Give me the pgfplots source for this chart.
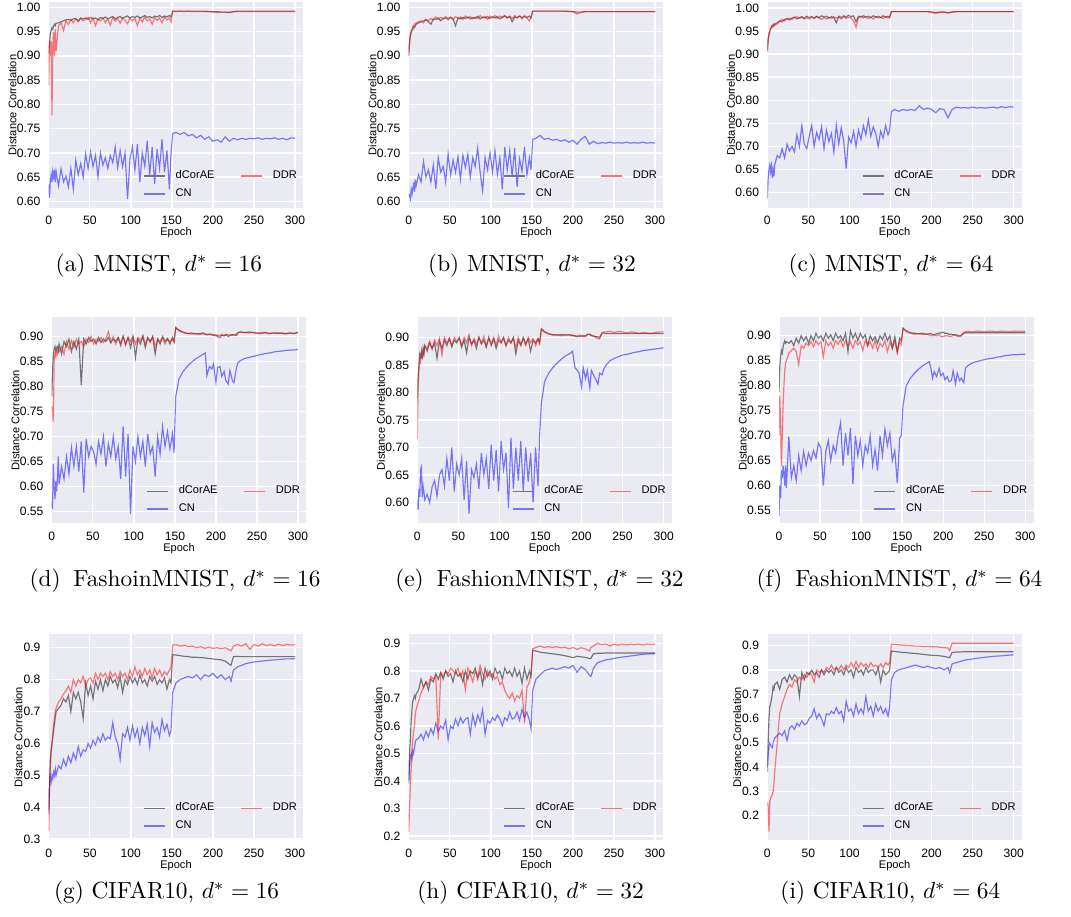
\documentclass[border=0pt]{standalone}
\usepackage{fontspec}
\usepackage{pgfplots}
\usepackage{pgfplotstable}
\pgfplotsset{compat=1.18}
\newfontfamily\plotfont{Liberation Sans}
\definecolor{sbbg}{RGB}{234,234,242}
% legend colours: the plot colours at half opacity over the background
\definecolor{lgk}{RGB}{117,117,121}
\definecolor{lgr}{RGB}{244,117,121}
\definecolor{lgb}{RGB}{117,117,249}

% one table per panel: epoch, dCorAE, DDR, CN
\pgfplotstableread{
ep dc ddr cn
0 0.905 0.840 0.635
1 0.925 0.930 0.608
2 0.945 0.900 0.645
3 0.952 0.930 0.655
4 0.958 0.778 0.640
5 0.955 0.920 0.662
6 0.962 0.950 0.650
7 0.965 0.900 0.665
8 0.962 0.955 0.640
9 0.967 0.910 0.662
12 0.968 0.962 0.632
15 0.970 0.968 0.667
18 0.972 0.952 0.640
21 0.974 0.972 0.652
24 0.975 0.965 0.630
27 0.973 0.975 0.668
30 0.976 0.968 0.625
33 0.977 0.976 0.685
36 0.972 0.970 0.655
39 0.978 0.977 0.678
42 0.976 0.972 0.650
45 0.978 0.975 0.698
48 0.975 0.979 0.668
51 0.979 0.968 0.702
54 0.976 0.978 0.672
57 0.978 0.962 0.695
60 0.974 0.976 0.650
63 0.979 0.972 0.700
66 0.977 0.978 0.675
69 0.980 0.968 0.690
72 0.976 0.976 0.668
75 0.979 0.963 0.695
78 0.981 0.979 0.680
81 0.976 0.971 0.712
84 0.979 0.977 0.670
87 0.981 0.967 0.705
90 0.977 0.978 0.672
93 0.980 0.973 0.700
96 0.982 0.966 0.605
99 0.978 0.978 0.688
102 0.981 0.972 0.712
105 0.979 0.977 0.665
108 0.982 0.962 0.718
111 0.978 0.978 0.640
114 0.980 0.970 0.700
117 0.983 0.980 0.672
120 0.979 0.972 0.725
123 0.981 0.976 0.655
126 0.978 0.965 0.712
129 0.982 0.979 0.636
132 0.980 0.973 0.708
135 0.983 0.978 0.668
138 0.979 0.968 0.728
141 0.982 0.980 0.660
144 0.980 0.974 0.705
147 0.983 0.978 0.625
149 0.980 0.970 0.700
151 0.992 0.992 0.740
155 0.992 0.991 0.742
160 0.992 0.992 0.738
165 0.992 0.991 0.742
170 0.992 0.992 0.735
175 0.992 0.991 0.738
180 0.992 0.991 0.731
185 0.992 0.991 0.736
190 0.992 0.991 0.728
195 0.991 0.991 0.733
200 0.991 0.990 0.724
205 0.991 0.989 0.727
210 0.990 0.990 0.722
215 0.990 0.990 0.733
220 0.989 0.990 0.724
225 0.991 0.991 0.730
230 0.992 0.991 0.727
235 0.992 0.991 0.730
240 0.992 0.991 0.728
245 0.992 0.991 0.730
250 0.992 0.991 0.729
255 0.992 0.991 0.731
260 0.992 0.991 0.728
265 0.992 0.991 0.730
270 0.992 0.991 0.729
275 0.992 0.991 0.731
280 0.992 0.991 0.728
285 0.992 0.991 0.730
290 0.992 0.991 0.727
295 0.992 0.991 0.731
300 0.992 0.991 0.730
}\tA

\pgfplotstableread{
ep dc ddr cn
0 0.900 0.905 0.615
1 0.925 0.930 0.612
2 0.940 0.945 0.605
3 0.948 0.952 0.625
4 0.952 0.955 0.615
5 0.955 0.960 0.628
6 0.960 0.962 0.635
7 0.958 0.965 0.620
8 0.962 0.963 0.645
9 0.965 0.968 0.632
12 0.968 0.970 0.655
15 0.970 0.972 0.640
18 0.972 0.968 0.682
21 0.974 0.975 0.650
24 0.970 0.972 0.665
27 0.965 0.977 0.640
30 0.976 0.974 0.675
33 0.975 0.980 0.626
36 0.978 0.975 0.690
39 0.972 0.979 0.660
42 0.977 0.976 0.672
45 0.978 0.981 0.640
48 0.975 0.977 0.698
51 0.979 0.980 0.655
54 0.976 0.975 0.685
57 0.962 0.981 0.660
60 0.978 0.977 0.692
63 0.976 0.980 0.645
66 0.979 0.975 0.695
69 0.977 0.982 0.670
72 0.980 0.978 0.697
75 0.976 0.981 0.650
78 0.979 0.976 0.690
81 0.977 0.980 0.672
84 0.981 0.977 0.710
87 0.976 0.983 0.660
90 0.980 0.978 0.622
93 0.978 0.981 0.690
96 0.981 0.975 0.665
99 0.977 0.982 0.700
102 0.980 0.979 0.660
105 0.978 0.983 0.705
108 0.981 0.977 0.655
111 0.976 0.982 0.690
114 0.980 0.978 0.625
117 0.982 0.983 0.712
120 0.978 0.979 0.665
123 0.981 0.982 0.705
126 0.970 0.977 0.650
129 0.980 0.983 0.710
132 0.978 0.979 0.630
135 0.982 0.982 0.688
138 0.979 0.976 0.662
141 0.981 0.983 0.712
144 0.979 0.978 0.655
147 0.982 0.972 0.690
149 0.978 0.980 0.665
151 0.992 0.992 0.728
155 0.992 0.992 0.730
160 0.992 0.992 0.736
165 0.992 0.992 0.728
170 0.992 0.992 0.730
175 0.992 0.992 0.726
180 0.992 0.992 0.728
185 0.992 0.992 0.724
190 0.992 0.992 0.727
195 0.991 0.992 0.722
200 0.991 0.991 0.726
205 0.990 0.986 0.718
210 0.990 0.990 0.728
215 0.991 0.991 0.734
220 0.991 0.991 0.718
225 0.991 0.991 0.724
230 0.991 0.991 0.719
235 0.991 0.991 0.721
240 0.991 0.991 0.720
245 0.991 0.991 0.722
250 0.991 0.991 0.720
255 0.991 0.991 0.721
260 0.991 0.991 0.720
265 0.991 0.991 0.722
270 0.991 0.991 0.720
275 0.991 0.991 0.721
280 0.991 0.991 0.720
285 0.991 0.991 0.722
290 0.991 0.991 0.720
295 0.991 0.991 0.721
300 0.991 0.991 0.720
}\tB

\pgfplotstableread{
ep dc ddr cn
0 0.908 0.905 0.587
1 0.930 0.935 0.630
2 0.945 0.940 0.650
3 0.950 0.948 0.660
4 0.955 0.955 0.645
5 0.958 0.960 0.658
6 0.962 0.958 0.632
7 0.960 0.963 0.650
8 0.965 0.962 0.635
9 0.963 0.966 0.660
12 0.968 0.965 0.680
15 0.972 0.970 0.675
18 0.970 0.975 0.695
21 0.975 0.972 0.675
24 0.977 0.976 0.705
27 0.974 0.978 0.690
30 0.978 0.975 0.700
33 0.980 0.979 0.688
36 0.976 0.981 0.725
39 0.979 0.977 0.700
42 0.981 0.980 0.745
45 0.977 0.976 0.705
48 0.982 0.979 0.695
51 0.979 0.976 0.722
54 0.981 0.980 0.745
57 0.978 0.977 0.700
60 0.982 0.981 0.730
63 0.979 0.978 0.715
66 0.983 0.975 0.742
69 0.980 0.979 0.695
72 0.982 0.976 0.735
75 0.978 0.980 0.710
78 0.981 0.977 0.728
81 0.979 0.981 0.688
84 0.968 0.978 0.746
87 0.982 0.980 0.705
90 0.979 0.976 0.740
93 0.983 0.981 0.712
96 0.980 0.977 0.652
99 0.984 0.980 0.720
102 0.981 0.978 0.708
105 0.983 0.972 0.732
108 0.970 0.958 0.700
111 0.982 0.979 0.735
114 0.980 0.982 0.715
117 0.983 0.978 0.745
120 0.980 0.981 0.725
123 0.982 0.977 0.758
126 0.979 0.980 0.722
129 0.983 0.976 0.742
132 0.980 0.981 0.728
135 0.982 0.978 0.700
138 0.979 0.980 0.733
141 0.983 0.977 0.718
144 0.980 0.981 0.745
147 0.982 0.978 0.725
149 0.979 0.980 0.735
151 0.992 0.992 0.775
155 0.992 0.992 0.780
160 0.992 0.992 0.776
165 0.992 0.992 0.780
170 0.992 0.992 0.778
175 0.992 0.992 0.780
180 0.992 0.992 0.778
185 0.992 0.992 0.788
190 0.992 0.992 0.780
195 0.992 0.992 0.783
200 0.991 0.991 0.780
205 0.990 0.988 0.773
210 0.991 0.990 0.782
215 0.991 0.991 0.780
220 0.989 0.990 0.762
225 0.991 0.991 0.780
230 0.992 0.992 0.785
235 0.992 0.992 0.783
240 0.992 0.992 0.784
245 0.992 0.992 0.783
250 0.992 0.992 0.785
255 0.992 0.992 0.783
260 0.992 0.992 0.784
265 0.992 0.992 0.783
270 0.992 0.992 0.784
275 0.992 0.992 0.785
280 0.992 0.992 0.783
285 0.992 0.992 0.786
290 0.992 0.992 0.784
295 0.992 0.992 0.786
300 0.992 0.992 0.785
}\tC

\pgfplotstableread{
ep dc ddr cn
0 0.780 0.760 0.570
1 0.830 0.755 0.555
2 0.860 0.730 0.645
3 0.875 0.850 0.600
4 0.880 0.865 0.575
5 0.870 0.860 0.610
6 0.878 0.870 0.590
7 0.880 0.865 0.620
8 0.872 0.875 0.660
9 0.885 0.870 0.605
12 0.865 0.880 0.640
15 0.890 0.865 0.615
18 0.880 0.890 0.660
21 0.895 0.875 0.625
24 0.870 0.892 0.678
27 0.890 0.878 0.640
30 0.875 0.895 0.680
33 0.895 0.885 0.630
36 0.803 0.890 0.690
39 0.895 0.880 0.588
42 0.885 0.895 0.695
45 0.898 0.888 0.660
48 0.890 0.900 0.680
51 0.895 0.885 0.670
54 0.885 0.895 0.645
57 0.898 0.890 0.690
60 0.888 0.898 0.665
63 0.895 0.888 0.700
66 0.890 0.895 0.640
69 0.898 0.910 0.685
72 0.887 0.890 0.660
75 0.895 0.900 0.700
78 0.890 0.885 0.655
81 0.898 0.897 0.680
84 0.882 0.888 0.615
87 0.900 0.900 0.720
90 0.885 0.882 0.620
93 0.898 0.898 0.705
96 0.878 0.890 0.545
99 0.900 0.900 0.680
102 0.858 0.885 0.650
105 0.895 0.898 0.700
108 0.885 0.892 0.660
111 0.900 0.902 0.690
114 0.878 0.885 0.640
117 0.898 0.897 0.705
120 0.890 0.888 0.665
123 0.900 0.900 0.680
126 0.865 0.880 0.620
129 0.895 0.895 0.700
132 0.885 0.890 0.665
135 0.900 0.898 0.720
138 0.890 0.885 0.680
141 0.896 0.895 0.710
144 0.885 0.890 0.675
147 0.898 0.895 0.705
149 0.890 0.888 0.668
151 0.918 0.917 0.780
155 0.912 0.913 0.815
160 0.908 0.909 0.830
165 0.906 0.906 0.840
170 0.907 0.905 0.848
175 0.905 0.906 0.855
180 0.906 0.904 0.860
185 0.907 0.905 0.865
187 0.905 0.904 0.867
189 0.904 0.903 0.822
192 0.905 0.904 0.840
195 0.904 0.903 0.835
197 0.902 0.904 0.845
200 0.903 0.901 0.808
202 0.900 0.903 0.838
205 0.898 0.902 0.840
207 0.903 0.904 0.820
210 0.901 0.902 0.830
212 0.904 0.903 0.812
215 0.900 0.904 0.805
217 0.902 0.903 0.832
220 0.904 0.902 0.812
222 0.903 0.904 0.808
225 0.902 0.905 0.838
227 0.908 0.908 0.848
230 0.909 0.909 0.852
235 0.908 0.908 0.856
240 0.909 0.907 0.858
245 0.908 0.908 0.860
250 0.907 0.906 0.862
255 0.906 0.908 0.864
260 0.908 0.907 0.866
265 0.906 0.906 0.867
270 0.907 0.907 0.869
275 0.906 0.908 0.870
280 0.907 0.906 0.871
285 0.906 0.905 0.872
290 0.907 0.907 0.873
295 0.906 0.906 0.873
300 0.908 0.909 0.874
}\tD

\pgfplotstableread{
ep dc ddr cn
0 0.790 0.715 0.605
1 0.830 0.800 0.587
2 0.850 0.840 0.625
3 0.870 0.860 0.610
4 0.865 0.855 0.660
5 0.875 0.870 0.665
6 0.860 0.868 0.610
7 0.880 0.875 0.630
8 0.870 0.870 0.620
9 0.885 0.885 0.605
12 0.875 0.880 0.615
15 0.890 0.893 0.600
18 0.880 0.878 0.628
21 0.890 0.895 0.640
24 0.862 0.885 0.612
27 0.893 0.898 0.650
30 0.880 0.868 0.660
33 0.895 0.900 0.630
36 0.885 0.890 0.680
39 0.898 0.898 0.640
42 0.883 0.885 0.700
45 0.895 0.900 0.620
48 0.890 0.893 0.670
51 0.900 0.898 0.650
54 0.882 0.886 0.680
57 0.895 0.900 0.605
60 0.872 0.890 0.675
63 0.900 0.905 0.580
66 0.888 0.885 0.660
69 0.895 0.898 0.645
72 0.880 0.888 0.670
75 0.900 0.900 0.625
78 0.888 0.890 0.690
81 0.895 0.902 0.650
84 0.882 0.885 0.680
87 0.900 0.898 0.625
90 0.885 0.890 0.705
93 0.897 0.900 0.640
96 0.880 0.886 0.695
99 0.895 0.903 0.620
102 0.890 0.890 0.712
105 0.900 0.898 0.660
108 0.885 0.885 0.690
111 0.895 0.900 0.590
114 0.890 0.890 0.718
117 0.900 0.898 0.625
120 0.870 0.882 0.700
123 0.895 0.900 0.640
126 0.885 0.888 0.712
129 0.900 0.897 0.620
132 0.888 0.885 0.700
135 0.897 0.900 0.638
138 0.875 0.890 0.690
141 0.895 0.898 0.600
144 0.890 0.885 0.700
147 0.898 0.897 0.630
149 0.890 0.888 0.722
151 0.915 0.916 0.780
155 0.910 0.910 0.820
160 0.906 0.907 0.835
165 0.905 0.904 0.845
170 0.904 0.905 0.853
175 0.905 0.903 0.860
180 0.904 0.905 0.866
185 0.905 0.904 0.870
187 0.903 0.905 0.872
189 0.904 0.903 0.875
192 0.903 0.902 0.845
195 0.901 0.903 0.840
197 0.902 0.904 0.835
200 0.902 0.904 0.810
202 0.903 0.901 0.845
205 0.903 0.901 0.825
207 0.905 0.906 0.840
210 0.905 0.906 0.808
212 0.903 0.904 0.840
215 0.902 0.903 0.830
217 0.901 0.900 0.825
220 0.901 0.898 0.815
222 0.900 0.897 0.835
225 0.908 0.908 0.832
227 0.908 0.910 0.842
230 0.907 0.910 0.850
235 0.907 0.911 0.858
240 0.907 0.909 0.862
245 0.907 0.911 0.865
250 0.907 0.910 0.868
255 0.907 0.908 0.869
260 0.907 0.910 0.871
265 0.907 0.909 0.873
270 0.907 0.907 0.874
275 0.907 0.909 0.876
280 0.907 0.908 0.877
285 0.907 0.907 0.878
290 0.907 0.909 0.879
295 0.907 0.910 0.880
300 0.907 0.910 0.881
}\tE

\pgfplotstableread{
ep dc ddr cn
0 0.787 0.700 0.540
1 0.840 0.780 0.600
2 0.860 0.720 0.575
3 0.870 0.640 0.630
4 0.865 0.700 0.615
5 0.878 0.760 0.640
6 0.885 0.800 0.625
7 0.890 0.830 0.600
8 0.885 0.845 0.640
9 0.888 0.850 0.595
12 0.885 0.865 0.698
15 0.890 0.870 0.615
18 0.880 0.875 0.640
21 0.895 0.868 0.610
24 0.885 0.842 0.660
27 0.900 0.880 0.630
30 0.890 0.875 0.668
33 0.898 0.885 0.640
36 0.885 0.880 0.665
39 0.900 0.888 0.650
42 0.890 0.878 0.670
45 0.905 0.890 0.655
48 0.895 0.882 0.685
51 0.900 0.888 0.675
54 0.890 0.858 0.600
57 0.905 0.890 0.668
60 0.895 0.880 0.690
63 0.902 0.887 0.650
66 0.890 0.875 0.680
69 0.905 0.890 0.665
72 0.895 0.883 0.700
75 0.900 0.892 0.726
78 0.890 0.878 0.640
81 0.905 0.890 0.705
84 0.868 0.880 0.660
87 0.910 0.888 0.715
90 0.895 0.875 0.603
93 0.905 0.890 0.700
96 0.890 0.882 0.660
99 0.905 0.888 0.690
102 0.895 0.870 0.640
105 0.902 0.890 0.680
108 0.880 0.880 0.665
111 0.900 0.888 0.700
114 0.890 0.875 0.640
117 0.898 0.890 0.672
120 0.885 0.870 0.630
123 0.900 0.885 0.700
126 0.892 0.878 0.660
129 0.905 0.890 0.713
132 0.890 0.868 0.680
135 0.900 0.888 0.705
138 0.875 0.875 0.650
141 0.898 0.890 0.670
144 0.868 0.865 0.605
147 0.895 0.888 0.695
149 0.890 0.882 0.700
151 0.915 0.915 0.760
155 0.910 0.908 0.800
160 0.906 0.905 0.815
165 0.905 0.903 0.825
170 0.904 0.904 0.833
175 0.905 0.902 0.840
180 0.903 0.903 0.845
183 0.904 0.901 0.848
185 0.904 0.901 0.835
187 0.903 0.900 0.815
189 0.902 0.901 0.828
192 0.904 0.900 0.818
195 0.905 0.902 0.835
197 0.906 0.899 0.820
200 0.907 0.898 0.825
202 0.905 0.900 0.812
205 0.905 0.900 0.818
207 0.903 0.899 0.808
210 0.903 0.899 0.810
212 0.902 0.901 0.830
215 0.902 0.901 0.803
217 0.901 0.899 0.825
220 0.900 0.898 0.810
222 0.901 0.900 0.815
225 0.905 0.907 0.806
227 0.906 0.908 0.835
230 0.906 0.909 0.840
235 0.906 0.908 0.845
240 0.906 0.909 0.848
245 0.906 0.909 0.850
250 0.906 0.908 0.852
255 0.906 0.909 0.854
260 0.906 0.909 0.855
265 0.906 0.908 0.857
270 0.906 0.909 0.858
275 0.906 0.909 0.860
280 0.906 0.908 0.861
285 0.906 0.909 0.862
290 0.906 0.909 0.862
295 0.906 0.909 0.863
300 0.906 0.909 0.863
}\tF

\pgfplotstableread{
ep dc ddr cn
0 0.380 0.325 0.390
1 0.480 0.450 0.460
2 0.550 0.520 0.495
3 0.580 0.570 0.480
4 0.600 0.600 0.500
5 0.620 0.630 0.490
6 0.640 0.660 0.510
7 0.660 0.680 0.500
8 0.680 0.700 0.520
9 0.700 0.710 0.500
12 0.710 0.730 0.530
15 0.720 0.740 0.520
18 0.740 0.755 0.550
21 0.730 0.765 0.530
24 0.750 0.780 0.560
27 0.700 0.760 0.540
30 0.760 0.800 0.570
33 0.740 0.780 0.550
36 0.760 0.800 0.590
39 0.730 0.790 0.560
42 0.678 0.810 0.580
45 0.790 0.780 0.575
48 0.750 0.800 0.600
51 0.780 0.805 0.585
54 0.740 0.790 0.610
57 0.795 0.820 0.595
60 0.770 0.800 0.620
63 0.800 0.820 0.605
66 0.765 0.810 0.630
69 0.800 0.820 0.610
72 0.780 0.800 0.620
75 0.810 0.825 0.615
78 0.790 0.810 0.665
81 0.800 0.820 0.620
84 0.775 0.800 0.600
87 0.810 0.825 0.550
90 0.760 0.810 0.630
93 0.800 0.820 0.620
96 0.785 0.800 0.650
99 0.810 0.830 0.610
102 0.790 0.810 0.655
105 0.805 0.840 0.620
108 0.785 0.815 0.645
111 0.815 0.830 0.600
114 0.790 0.810 0.650
117 0.800 0.835 0.625
120 0.780 0.815 0.660
123 0.810 0.830 0.590
126 0.795 0.805 0.665
129 0.810 0.835 0.635
132 0.785 0.815 0.650
135 0.800 0.830 0.620
138 0.790 0.810 0.675
141 0.805 0.825 0.640
144 0.770 0.815 0.660
147 0.800 0.830 0.625
149 0.790 0.840 0.640
151 0.878 0.908 0.760
155 0.877 0.910 0.790
160 0.875 0.905 0.800
165 0.873 0.908 0.805
170 0.872 0.903 0.810
175 0.870 0.905 0.805
180 0.870 0.900 0.815
185 0.869 0.903 0.800
190 0.868 0.898 0.815
195 0.866 0.902 0.810
200 0.865 0.898 0.820
205 0.863 0.900 0.805
210 0.862 0.897 0.815
215 0.858 0.900 0.800
220 0.848 0.893 0.810
222 0.845 0.890 0.795
225 0.872 0.905 0.830
230 0.873 0.910 0.840
235 0.872 0.905 0.845
240 0.872 0.912 0.850
245 0.872 0.895 0.853
250 0.872 0.910 0.855
255 0.872 0.905 0.857
260 0.872 0.912 0.858
265 0.872 0.907 0.860
270 0.872 0.910 0.861
275 0.872 0.906 0.862
280 0.872 0.911 0.863
285 0.872 0.907 0.864
290 0.872 0.910 0.865
295 0.872 0.908 0.865
300 0.872 0.910 0.866
}\tG

\pgfplotstableread{
ep dc ddr cn
0 0.400 0.215 0.390
1 0.500 0.300 0.450
2 0.550 0.380 0.490
3 0.620 0.450 0.500
4 0.660 0.520 0.480
5 0.690 0.550 0.510
6 0.700 0.580 0.500
7 0.710 0.600 0.520
8 0.700 0.640 0.540
9 0.715 0.660 0.550
12 0.730 0.690 0.555
15 0.770 0.720 0.570
18 0.740 0.740 0.550
21 0.760 0.760 0.580
24 0.730 0.750 0.560
27 0.770 0.780 0.590
30 0.760 0.770 0.570
33 0.790 0.780 0.610
36 0.770 0.550 0.580
39 0.795 0.790 0.600
42 0.770 0.780 0.590
45 0.800 0.800 0.620
48 0.780 0.790 0.550
51 0.790 0.810 0.600
54 0.760 0.800 0.590
57 0.800 0.790 0.625
60 0.780 0.810 0.600
63 0.790 0.780 0.630
66 0.760 0.800 0.610
69 0.800 0.730 0.625
72 0.770 0.810 0.630
75 0.800 0.790 0.570
78 0.790 0.760 0.640
81 0.810 0.800 0.600
84 0.770 0.780 0.640
87 0.800 0.820 0.615
90 0.750 0.790 0.660
93 0.810 0.770 0.570
96 0.780 0.800 0.620
99 0.800 0.780 0.610
102 0.770 0.790 0.630
105 0.810 0.770 0.620
108 0.790 0.780 0.640
111 0.800 0.750 0.625
114 0.770 0.760 0.600
117 0.810 0.730 0.630
120 0.790 0.710 0.620
123 0.800 0.700 0.650
126 0.780 0.720 0.625
129 0.810 0.690 0.630
132 0.780 0.710 0.650
135 0.800 0.700 0.620
138 0.755 0.730 0.660
141 0.810 0.610 0.630
144 0.770 0.740 0.650
147 0.800 0.760 0.620
149 0.780 0.790 0.590
151 0.875 0.880 0.730
155 0.872 0.885 0.770
160 0.868 0.890 0.785
165 0.866 0.885 0.800
170 0.864 0.888 0.805
175 0.862 0.885 0.810
180 0.860 0.888 0.805
185 0.858 0.884 0.810
190 0.855 0.886 0.815
195 0.852 0.880 0.810
200 0.848 0.885 0.820
205 0.853 0.878 0.795
210 0.851 0.884 0.815
215 0.849 0.880 0.805
220 0.845 0.872 0.785
222 0.846 0.885 0.780
225 0.862 0.890 0.810
230 0.864 0.900 0.830
235 0.864 0.895 0.835
240 0.865 0.898 0.840
245 0.865 0.890 0.842
250 0.865 0.897 0.845
255 0.865 0.893 0.848
260 0.865 0.898 0.850
265 0.865 0.894 0.852
270 0.865 0.897 0.854
275 0.865 0.895 0.856
280 0.865 0.898 0.858
285 0.865 0.894 0.860
290 0.865 0.898 0.861
295 0.865 0.896 0.862
300 0.865 0.898 0.862
}\tH

\pgfplotstableread{
ep dc ddr cn
0 0.400 0.255 0.380
1 0.500 0.240 0.450
2 0.600 0.135 0.490
3 0.650 0.260 0.500
4 0.660 0.270 0.490
5 0.680 0.280 0.485
6 0.700 0.285 0.480
7 0.730 0.300 0.500
8 0.720 0.330 0.510
9 0.740 0.380 0.520
12 0.750 0.500 0.530
15 0.720 0.620 0.540
18 0.760 0.660 0.530
21 0.770 0.690 0.550
24 0.750 0.720 0.510
27 0.780 0.740 0.560
30 0.760 0.730 0.570
33 0.780 0.760 0.555
36 0.770 0.750 0.580
39 0.690 0.770 0.570
42 0.790 0.760 0.590
45 0.760 0.780 0.575
48 0.790 0.770 0.580
51 0.780 0.790 0.600
54 0.800 0.780 0.610
57 0.780 0.750 0.640
60 0.790 0.800 0.600
63 0.770 0.790 0.620
66 0.800 0.800 0.600
69 0.780 0.790 0.570
72 0.800 0.810 0.620
75 0.790 0.800 0.615
78 0.800 0.820 0.630
81 0.780 0.800 0.620
84 0.810 0.810 0.645
87 0.790 0.800 0.620
90 0.800 0.820 0.630
93 0.780 0.800 0.590
96 0.810 0.820 0.670
99 0.790 0.810 0.630
102 0.800 0.830 0.640
105 0.770 0.810 0.610
108 0.810 0.835 0.660
111 0.790 0.810 0.620
114 0.800 0.830 0.640
117 0.780 0.815 0.620
120 0.810 0.825 0.690
123 0.790 0.810 0.630
126 0.800 0.830 0.650
129 0.800 0.815 0.610
132 0.780 0.820 0.660
135 0.810 0.810 0.630
138 0.750 0.825 0.650
141 0.800 0.810 0.620
144 0.780 0.830 0.640
147 0.790 0.820 0.610
149 0.800 0.830 0.650
151 0.878 0.905 0.760
155 0.876 0.905 0.790
160 0.874 0.903 0.800
165 0.872 0.902 0.805
170 0.871 0.900 0.810
175 0.869 0.900 0.815
180 0.868 0.898 0.820
185 0.866 0.898 0.815
190 0.864 0.896 0.810
195 0.862 0.897 0.815
200 0.860 0.895 0.810
205 0.860 0.896 0.805
210 0.858 0.893 0.810
215 0.856 0.892 0.800
220 0.852 0.890 0.810
222 0.850 0.880 0.790
225 0.872 0.910 0.825
230 0.874 0.910 0.830
235 0.874 0.910 0.835
240 0.875 0.910 0.840
245 0.875 0.910 0.843
250 0.875 0.910 0.845
255 0.875 0.910 0.848
260 0.875 0.910 0.850
265 0.875 0.910 0.852
270 0.875 0.910 0.854
275 0.875 0.910 0.856
280 0.875 0.910 0.857
285 0.875 0.910 0.858
290 0.875 0.910 0.860
295 0.875 0.910 0.861
300 0.875 0.910 0.862
}\tI

\pgfplotsset{
  panel/.style={
    width=109.1pt, height=88.5pt, scale only axis,
    anchor=north west,
    xmin=0, xmax=310, xtick={0,50,100,150,200,250,300},
    axis background/.style={fill=sbbg},
    axis line style={draw=none},
    major tick length=0pt,
    grid=major,
    major grid style={white, line width=0.6pt},
    /pgf/number format/assume math mode=true,
    ticklabel style={font=\plotfont\fontsize{5.2}{6}\selectfont},
    label style={font=\plotfont\fontsize{4.75}{5.5}\selectfont},
    xlabel={Epoch}, ylabel={Distance Correlation},
    xlabel style={at={(axis description cs:0.5,-0.12)}, anchor=center},
    legend columns=2,
    legend cell align=left,
    legend image code/.code={\draw[line width=0.7pt] (0pt,0pt) -- (9pt,0pt);},
    legend style={at={(0.975,0.042)}, anchor=south east, draw=none, fill=none,
      inner sep=0pt, outer sep=0pt, row sep=2.7pt,
      nodes={inner sep=0pt},
      font=\plotfont\fontsize{4.75}{5.5}\selectfont,
      /tikz/every odd column/.append style={column sep=4.3pt},
      /tikz/every even column/.append style={column sep=11pt}},
  },
  two/.style={yticklabel style={/pgf/number format/.cd, fixed, fixed zerofill, precision=2},
    ylabel style={at={(axis description cs:-0.143,0.5)}, anchor=center}},
  one/.style={yticklabel style={/pgf/number format/.cd, fixed, fixed zerofill, precision=1},
    ylabel style={at={(axis description cs:-0.119,0.5)}, anchor=center}},
  ln/.style={line width=0.5pt, draw opacity=0.5},
}

\newcommand\curves[1]{%
  \addplot[ln, black, forget plot] table[x=ep, y=dc] {#1};
  \addplot[ln, blue, forget plot] table[x=ep, y=cn] {#1};
  \addplot[ln, red, forget plot] table[x=ep, y=ddr] {#1};
  \addlegendimage{lgk}\addlegendentry{dCorAE}
  \addlegendimage{lgr}\addlegendentry{DDR}
  \addlegendimage{lgb}\addlegendentry{CN}
}

\begin{document}
\begin{tikzpicture}
\useasboundingbox (0pt,0pt) rectangle (459pt,-392.6pt);

% row 1: MNIST
\begin{axis}[panel, two, at={(20.87pt,-0.73pt)}, ymin=0.586, ymax=1.0115,
  ytick={0.6,0.65,0.7,0.75,0.8,0.85,0.9,0.95,1.0}]
\curves{\tA}
\end{axis}
\begin{axis}[panel, two, at={(175.16pt,-0.73pt)}, ymin=0.586, ymax=1.0115,
  ytick={0.6,0.65,0.7,0.75,0.8,0.85,0.9,0.95,1.0}]
\curves{\tB}
\end{axis}
\begin{axis}[panel, two, at={(328.86pt,-0.73pt)}, ymin=0.566, ymax=1.0135,
  ytick={0.6,0.65,0.7,0.75,0.8,0.85,0.9,0.95,1.0}]
\curves{\tC}
\end{axis}

% row 2: FashionMNIST
\begin{axis}[panel, two, at={(22.16pt,-135.86pt)}, ymin=0.526, ymax=0.939,
  ytick={0.55,0.6,0.65,0.7,0.75,0.8,0.85,0.9}]
\curves{\tD}
\end{axis}
\begin{axis}[panel, two, at={(178.85pt,-135.86pt)}, ymin=0.562, ymax=0.937,
  ytick={0.6,0.65,0.7,0.75,0.8,0.85,0.9}]
\curves{\tE}
\end{axis}
\begin{axis}[panel, two, at={(333.86pt,-135.86pt)}, ymin=0.524, ymax=0.9375,
  ytick={0.55,0.6,0.65,0.7,0.75,0.8,0.85,0.9}]
\curves{\tF}
\end{axis}

% row 3: CIFAR10
\begin{axis}[panel, one, at={(20.87pt,-271.71pt)}, ymin=0.296, ymax=0.943,
  ytick={0.3,0.4,0.5,0.6,0.7,0.8,0.9}]
\curves{\tG}
\end{axis}
\begin{axis}[panel, one, at={(175.16pt,-271.71pt)}, ymin=0.184, ymax=0.934,
  ytick={0.2,0.3,0.4,0.5,0.6,0.7,0.8,0.9}]
\curves{\tH}
\end{axis}
\begin{axis}[panel, one, at={(328.86pt,-271.71pt)}, ymin=0.098, ymax=0.948,
  ytick={0.2,0.3,0.4,0.5,0.6,0.7,0.8,0.9}]
\curves{\tI}
\end{axis}

\begin{scope}[every node/.style={font=\fontsize{10}{12}\selectfont, inner sep=0pt}]
\node at (68.1pt,-114.0pt) {(a) MNIST, $d^{*}=16$};
\node at (228.0pt,-114.0pt) {(b) MNIST, $d^{*}=32$};
\node at (381.9pt,-114.0pt) {(c) MNIST, $d^{*}=64$};
\node at (75.0pt,-249.0pt) {(d)\hspace{0.55em}FashoinMNIST, $d^{*}=16$};
\node at (231.2pt,-249.0pt) {(e)\hspace{0.55em}FashionMNIST, $d^{*}=32$};
\node at (385.5pt,-249.0pt) {(f)\hspace{0.55em}FashionMNIST, $d^{*}=64$};
\node at (71.4pt,-382.7pt) {(g) CIFAR10, $d^{*}=16$};
\node at (227.4pt,-382.7pt) {(h) CIFAR10, $d^{*}=32$};
\node at (381.6pt,-382.7pt) {(i) CIFAR10, $d^{*}=64$};
\end{scope}
\end{tikzpicture}
\end{document}
